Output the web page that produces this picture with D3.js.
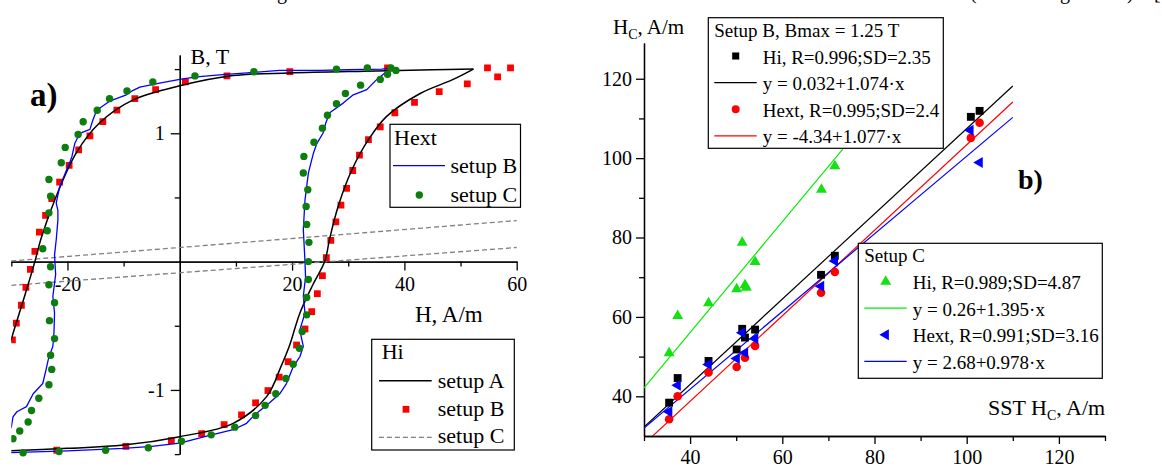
<!DOCTYPE html>
<html>
<head>
<meta charset="utf-8">
<script src="https://cdn.jsdelivr.net/npm/d3@7"></script>
<style>
  body { margin: 0; background: #fff; }
  svg text { font-family: "Liberation Serif", "Times New Roman", serif; fill: #000; }
</style>
</head>
<body>
<div id="chart"></div>
<script>
/**
 * DATA - panel a) hysteresis loops, [H (A/m), B (T)]
 * */
// setup A, Hi (black line) - descending and ascending branches
const hiA_desc = [[52.3,1.50],[45,1.495],[35,1.485],[19.6,1.47],[9.5,1.45],[0,1.37],[-8.3,1.26],[-14.3,1.08],
  [-18.4,0.85],[-22,0.51],[-24.7,0.18],[-25.8,0],[-27.5,-0.25],[-29.7,-0.56],[-31,-0.75]];
const hiA_asc = [[-31,-1.475],[-20,-1.455],[-10,-1.43],[0,-1.364],[9.5,-1.26],[15.5,-1.05],[18,-0.82],[19.5,-0.66],
  [21.4,-0.40],[23.7,-0.18],[25.8,0],[26.7,0.18],[28.2,0.43],[30.6,0.71],[33.6,0.95],[36.8,1.13],[42.8,1.31],
  [48.7,1.42],[52.3,1.50]];

// setup B, Hext (blue line)
const hextB_desc = [[37.7,1.51],[36,1.50],[30,1.495],[25,1.49],[17.8,1.49],[12,1.47],[7.1,1.455],[3,1.44],[0,1.42],
  [-3.6,1.39],[-7.1,1.36],[-8.5,1.33],[-9.5,1.30],[-12.5,1.25],[-14.8,1.18],[-15.5,1.10],[-16,1.03],[-17.8,1.0],
  [-18.7,0.92],[-19.2,0.82],[-19.6,0.77],[-20.2,0.71],[-21.4,0.58],[-22,0.455],[-21.7,0.40],[-21.7,0.325],
  [-22,0.17],[-22.3,0.05],[-22.1,-0.10],[-22.6,-0.27],[-22.3,-0.40],[-22.4,-0.55],[-22.6,-0.66],[-23.4,-0.76],
  [-23.8,-0.84],[-24.4,-0.95],[-26.1,-1.03],[-27.3,-1.13],[-29,-1.17],[-29.7,-1.21],[-30,-1.29],[-30.5,-1.32]];
const hextB_asc = [[-31,-1.49],[-20,-1.475],[-10,-1.455],[-5,-1.44],[0,-1.415],[4.8,-1.36],[9.5,-1.31],[11.9,-1.26],
  [13.2,-1.20],[14.3,-1.16],[16,-1.10],[17.8,-1.03],[19,-0.95],[20.2,-0.82],[21.4,-0.74],[22,-0.66],[21.6,-0.58],
  [21.4,-0.53],[22.3,-0.40],[22,-0.27],[22.4,-0.12],[22.3,0],[22,0.25],[22.3,0.48],[22.9,0.69],[23.8,0.845],
  [24.4,0.92],[25.5,1.0],[26,1.08],[26.7,1.16],[29.1,1.235],[30.9,1.30],[33.3,1.34],[35.1,1.42],[36.8,1.48],[37.7,1.51]];

// setup B, Hi (red squares)
const hiB_pts = [[58.9,1.51],[56.6,1.44],[54.8,1.51],[51.2,1.385],[46.2,1.325],[41.8,1.24],[38.3,1.16],[35.7,1.05],
  [33.6,0.95],[32,0.83],[30.8,0.71],[29.7,0.57],[28.7,0.44],[27.8,0.31],[26.9,0.165],[26.1,0.03],[25.4,-0.11],
  [24.5,-0.25],[23.5,-0.39],[22.3,-0.525],[20.8,-0.65],[19.3,-0.78],[17.7,-0.90],[15.7,-1.005],[13.5,-1.10],
  [11,-1.195],[7.9,-1.27],[3.9,-1.34],[-1.5,-1.395],[-9.6,-1.44],[-21.9,-1.47],
  [37,1.51],[19.6,1.48],[8.4,1.447],[1,1.40],[-4.3,1.34],[-8,1.27],[-11.2,1.18],[-13.7,1.09],[-16,0.98],
  [-18,0.87],[-19.7,0.75],[-21.4,0.62],[-22.8,0.49],[-23.9,0.36],[-25,0.23],[-25.8,0.08],[-26.6,-0.06],
  [-27.4,-0.20],[-28.2,-0.34],[-29.1,-0.48],[-29.8,-0.61]];

// setup C, Hext (green dots)
const hextC_pts = [[13.2,1.48],[2.7,1.447],[-4.8,1.40],[-9.4,1.33],[-12.5,1.27],[-14.7,1.18],[-17.2,1.09],[-18.1,0.99],
  [-20.4,0.89],[-21.1,0.77],[-23.3,0.64],[-23,0.51],[-23.3,0.38],[-23.6,0.24],[-24.4,0.10],[-23,-0.04],[-23.3,-0.18],
  [-22.3,-0.32],[-23.2,-0.46],[-22.3,-0.60],[-23,-0.73],[-22.8,-0.84],[-23.3,-0.96],[-25.1,-1.065],[-26.4,-1.16],
  [-27,-1.25],[-28.5,-1.32],[-29.7,-1.38],[-27.9,-1.49],[-21.5,-1.48],[-13.2,-1.47],[-5.6,-1.45],[0.3,-1.40],
  [5.6,-1.35],[9.8,-1.29],[13.5,-1.20],[15.2,-1.12],[17.1,-1.03],[18.9,-0.91],[20.2,-0.80],[21.3,-0.675],
  [21.8,-0.545],[22.6,-0.415],[22.6,-0.28],[22.9,-0.14],[22.9,0],[23,0.15],[22.6,0.29],[22.5,0.43],[22.8,0.56],
  [22,0.69],[22.1,0.82],[23.9,0.93],[25.4,1.04],[26.3,1.14],[27.9,1.23],[29.5,1.31],[32.2,1.375],[35.7,1.42],
  [37,1.46],[37.6,1.51],[38.5,1.49],[33.4,1.51],[27.9,1.50]];

// setup C, Hi (grey dashed, a very thin loop)
const hiC_upper = [[-30,0.005],[60,0.32]];
const hiC_lower = [[-30,-0.185],[60,0.11]];

// axis ticks, panel a
const aMajorX = [-20, 20, 40, 60];
const aMinorX = [-30, -10, 10, 30, 50];
const aMajorY = [-1, 1];
const aMinorY = [-1.5, -0.5, 0.5, 1.5];

/**
 * DATA - panel b) coercivity vs SST
 * */
const sstHiB = [35.45, 37.3, 44.0, 50.1, 51.3, 51.9, 54.1, 68.4, 71.4, 100.9, 102.8];
const hiB = [38.4, 44.6, 48.9, 51.8, 57.0, 54.8, 56.8, 70.6, 75.4, 110.4, 111.9];
const sstHextB = [35.45, 37.3, 44.0, 50.1, 51.9, 54.1, 68.4, 71.4, 100.9, 102.8];
const hextB = [34.2, 40.0, 46.0, 47.4, 49.7, 52.7, 66.1, 71.3, 105.1, 108.9];
const sstHiC = [35.45, 37.3, 44.0, 50.1, 51.3, 51.9, 52.2, 54.1, 68.5, 71.4];
const hiC = [50.9, 60.3, 63.5, 67.0, 78.7, 68.0, 67.4, 73.9, 92.1, 98.0];
const sstHextC = [35.45, 37.3, 44.0, 50.1, 51.3, 51.9, 54.1, 68.4, 71.4, 100.8, 102.8];
const hextC = [36.1, 42.8, 48.0, 49.5, 56.0, 51.0, 54.5, 67.7, 74.1, 107.0, 98.9];

// linear fits from the legends: [intercept, slope]
const fitNames = ["hiB", "hextB", "hiC", "hextC"];
const fitIntercept = [0.032, -4.34, 0.26, 2.68];
const fitSlope = [1.074, 1.077, 1.395, 0.978];
const fitRange = [30, 110];

const bMajorX = [40, 60, 80, 100, 120];
const bMinorX = [30, 50, 70, 90, 110, 130];
const bMajorY = [40, 60, 80, 100, 120];
const bMinorY = [50, 70, 90, 110];

const legendB = ["Setup B, Bmax = 1.25 T", "Hi, R=0.996;SD=2.35", "y = 0.032+1.074\u00b7x",
  "Hext, R=0.995;SD=2.4", "y = -4.34+1.077\u00b7x"];
const legendC = ["Setup C", "Hi, R=0.989;SD=4.87", "y = 0.26+1.395\u00b7x",
  "Hext, R=0.991;SD=3.16", "y = 2.68+0.978\u00b7x"];

const GREEN_A = "#0d7d0d", GREEN_B = "#14e014", RED = "#ff0000", BLUE = "#0000ff";

/**
 * SVG
 * */
const svg = d3.select("#chart").append("svg")
  .attr("width", 1162).attr("height", 466)
  .style("display", "block").style("background", "#fff");

// cut-off caption line at the very top
const frags = [["g", 277], ["(", 970], ["g", 1060], [")", 1127], ["[", 1154]];
svg.selectAll(".frag").data(frags).join("text")
  .attr("class", "frag").attr("x", d => d[1]).attr("y", -1)
  .attr("font-size", 20).text(d => d[0]);

function styleAxis(g, fs) {
  g.selectAll("path.domain").attr("stroke-width", 1.3);
  g.selectAll("line").attr("stroke-width", 1.3);
  g.selectAll("text").style("font-size", fs + "px").style("font-family", "Liberation Serif");
}

/* ================= PANEL A ================= */
const xA = d3.scaleLinear().domain([-30, 60]).range([11.3, 516.7]);
const yA = d3.scaleLinear().domain([-1.5, 1.61]).range([454.1, 55]);

svg.append("clipPath").attr("id", "clipA")
  .append("rect").attr("x", xA(-30)).attr("y", 40).attr("width", 560).attr("height", 420);

// axes
const gxA = svg.append("g").attr("transform", `translate(0,${yA(0)})`);
gxA.append("g").call(d3.axisBottom(xA).tickValues(aMinorX).tickSize(5).tickSizeOuter(0).tickFormat(""));
gxA.append("g").call(d3.axisBottom(xA).tickValues(aMajorX).tickSize(9).tickSizeOuter(0).tickPadding(6)
  .tickFormat(d => String(d)));
styleAxis(gxA, 20);

const gyA = svg.append("g").attr("transform", `translate(${xA(0)},0)`);
gyA.append("g").call(d3.axisLeft(yA).tickValues(aMinorY).tickSize(5).tickSizeOuter(0).tickFormat(""));
gyA.append("g").call(d3.axisLeft(yA).tickValues(aMajorY).tickSize(9).tickSizeOuter(0).tickPadding(6)
  .tickFormat(d => String(d)));
styleAxis(gyA, 20);

svg.append("text").attr("x", 190.5).attr("y", 64).attr("font-size", 22).text("B, T");
svg.append("text").attr("x", 415).attr("y", 321.5).attr("font-size", 23).text("H, A/m");
svg.append("text").attr("x", 30).attr("y", 106).attr("font-size", 33).attr("font-weight", "bold").text("a)");

const plotA = svg.append("g").attr("clip-path", "url(#clipA)");
const lineA = d3.line().x(d => xA(d[0])).y(d => yA(d[1]));

// setup C Hi - dashed grey
[hiC_upper, hiC_lower].forEach(seg => {
  plotA.append("path").attr("d", lineA(seg)).attr("fill", "none")
    .attr("stroke", "#808080").attr("stroke-width", 1.3).attr("stroke-dasharray", "5,3");
});

// setup B Hi - red squares
plotA.selectAll(".sqA").data(hiB_pts).join("path").attr("class", "sqA")
  .attr("transform", d => `translate(${xA(d[0])},${yA(d[1])})`)
  .attr("d", d3.symbol(d3.symbolSquare, 46)).attr("fill", RED);

// setup A Hi - black smooth loop
const smoothA = d3.line().x(d => xA(d[0])).y(d => yA(d[1])).curve(d3.curveCatmullRom);
[hiA_desc, hiA_asc].forEach(br => {
  plotA.append("path").attr("d", smoothA(br)).attr("fill", "none")
    .attr("stroke", "#000").attr("stroke-width", 1.5);
});

// setup B Hext - wobbly blue loop
[hextB_desc, hextB_asc].forEach(br => {
  plotA.append("path").attr("d", lineA(br)).attr("fill", "none")
    .attr("stroke", BLUE).attr("stroke-width", 1.3).attr("stroke-linejoin", "round");
});

// setup C Hext - green dots
plotA.selectAll(".dotA").data(hextC_pts).join("circle").attr("class", "dotA")
  .attr("cx", d => xA(d[0])).attr("cy", d => yA(d[1])).attr("r", 3.7).attr("fill", GREEN_A);

// legend Hext
const lgH = svg.append("g");
lgH.append("rect").attr("x", 390).attr("y", 124.3).attr("width", 130.5).attr("height", 83)
  .attr("fill", "#fff").attr("stroke", "#000").attr("stroke-width", 1.2);
lgH.append("text").attr("x", 394).attr("y", 145).attr("font-size", 22).text("Hext");
lgH.append("line").attr("x1", 393).attr("x2", 445).attr("y1", 165.7).attr("y2", 165.7)
  .attr("stroke", BLUE).attr("stroke-width", 1.3);
lgH.append("text").attr("x", 450.5).attr("y", 173.3).attr("font-size", 22).text("setup B");
lgH.append("circle").attr("cx", 419.3).attr("cy", 195).attr("r", 3.7).attr("fill", GREEN_A);
lgH.append("text").attr("x", 450.5).attr("y", 201.7).attr("font-size", 22).text("setup C");

// legend Hi
const lgI = svg.append("g");
lgI.append("rect").attr("x", 371.7).attr("y", 339.3).attr("width", 142.6).attr("height", 110.7)
  .attr("fill", "#fff").attr("stroke", "#000").attr("stroke-width", 1.2);
lgI.append("text").attr("x", 381.7).attr("y", 359.3).attr("font-size", 22).text("Hi");
lgI.append("line").attr("x1", 379).attr("x2", 431.7).attr("y1", 380.7).attr("y2", 380.7)
  .attr("stroke", "#000").attr("stroke-width", 1.5);
lgI.append("text").attr("x", 437.7).attr("y", 388.3).attr("font-size", 22).text("setup A");
lgI.append("path").attr("transform", "translate(406,409.3)")
  .attr("d", d3.symbol(d3.symbolSquare, 46)).attr("fill", RED);
lgI.append("text").attr("x", 437.7).attr("y", 415.7).attr("font-size", 22).text("setup B");
lgI.append("line").attr("x1", 379).attr("x2", 431.7).attr("y1", 437.3).attr("y2", 437.3)
  .attr("stroke", "#808080").attr("stroke-width", 1.3).attr("stroke-dasharray", "5,3");
lgI.append("text").attr("x", 437.7).attr("y", 443.3).attr("font-size", 22).text("setup C");

/* ================= PANEL B ================= */
const xB = d3.scaleLinear().domain([30, 130]).range([644, 1105]);
const yB = d3.scaleLinear().domain([30, 129]).range([436, 43]);

svg.append("clipPath").attr("id", "clipB")
  .append("rect").attr("x", xB(30)).attr("y", yB(129))
  .attr("width", xB(130) - xB(30)).attr("height", yB(30) - yB(129));

const gxB = svg.append("g").attr("transform", `translate(0,${yB(30)})`);
gxB.append("g").call(d3.axisBottom(xB).tickValues(bMinorX).tickSize(5).tickSizeOuter(0).tickFormat(""));
gxB.append("g").call(d3.axisBottom(xB).tickValues(bMajorX).tickSize(8).tickSizeOuter(0).tickPadding(6)
  .tickFormat(d => String(d)));
styleAxis(gxB, 20);

const gyB = svg.append("g").attr("transform", `translate(${xB(30)},0)`);
gyB.append("g").call(d3.axisLeft(yB).tickValues(bMinorY).tickSize(5).tickSizeOuter(0).tickFormat(""));
gyB.append("g").call(d3.axisLeft(yB).tickValues(bMajorY).tickSize(8).tickSizeOuter(0).tickPadding(4)
  .tickFormat(d => String(d)));
styleAxis(gyB, 20);

// axis titles with subscript C
const tY = svg.append("text").attr("x", 613).attr("y", 34.3).attr("font-size", 21);
tY.append("tspan").text("H");
tY.append("tspan").attr("font-size", 14).attr("dy", 5).text("C");
tY.append("tspan").attr("dy", -5).text(", A/m");

const tX = svg.append("text").attr("x", 988).attr("y", 415).attr("font-size", 22);
tX.append("tspan").text("SST H");
tX.append("tspan").attr("font-size", 14).attr("dy", 5).text("C");
tX.append("tspan").attr("dy", -5).text(", A/m");

svg.append("text").attr("x", 1018).attr("y", 188.5).attr("font-size", 28).attr("font-weight", "bold").text("b)");

// fit lines
const fitColors = ["#000", RED, "#00ee00", BLUE];
const plotB = svg.append("g").attr("clip-path", "url(#clipB)");
fitNames.forEach((name, i) => {
  plotB.append("line").attr("class", "fit-" + name)
    .attr("x1", xB(fitRange[0])).attr("y1", yB(fitIntercept[i] + fitSlope[i] * fitRange[0]))
    .attr("x2", xB(fitRange[1])).attr("y2", yB(fitIntercept[i] + fitSlope[i] * fitRange[1]))
    .attr("stroke", fitColors[i]).attr("stroke-width", 1.2);
});

// markers
const marks = [
  { xs: sstHiB, ys: hiB, sym: d3.symbolSquare, size: 62, rot: 0, color: "#000" },
  { xs: sstHextB, ys: hextB, sym: d3.symbolCircle, size: 58, rot: 0, color: RED },
  { xs: sstHiC, ys: hiC, sym: d3.symbolTriangle, size: 52, rot: 0, color: GREEN_B },
  { xs: sstHextC, ys: hextC, sym: d3.symbolTriangle, size: 52, rot: -90, color: BLUE }
];
marks.forEach(m => {
  svg.append("g").selectAll("path").data(m.xs.map((x, i) => [x, m.ys[i]])).join("path")
    .attr("transform", d => `translate(${xB(d[0])},${yB(d[1])}) rotate(${m.rot})`)
    .attr("d", d3.symbol(m.sym, m.size)).attr("fill", m.color);
});

// legends panel b
function legendBox(x, y, w, h, texts, items) {
  const g = svg.append("g");
  g.append("rect").attr("x", x).attr("y", y).attr("width", w).attr("height", h)
    .attr("fill", "#fff").attr("stroke", "#000").attr("stroke-width", 1.2);
  g.append("text").attr("x", x + 6).attr("y", y + 19).attr("font-size", 19).text(texts[0]);
  items.forEach((it, i) => {
    const cy = y + 38.3 + i * 26.6;
    if (it.type === "sym") {
      g.append("path").attr("transform", `translate(${x + 27.4},${cy}) rotate(${it.rot})`)
        .attr("d", d3.symbol(it.sym, it.size)).attr("fill", it.color);
    } else {
      g.append("line").attr("x1", x + 6).attr("x2", x + 48.4).attr("y1", cy).attr("y2", cy)
        .attr("stroke", it.color).attr("stroke-width", 1.2);
    }
    g.append("text").attr("x", x + 54.4).attr("y", cy + 7.5).attr("font-size", 19).text(texts[i + 1]);
  });
}
legendBox(708.3, 17.7, 235, 130.6, legendB, [
  { type: "sym", sym: d3.symbolSquare, size: 50, rot: 0, color: "#000" },
  { type: "line", color: "#000" },
  { type: "sym", sym: d3.symbolCircle, size: 50, rot: 0, color: RED },
  { type: "line", color: RED }
]);
legendBox(858.3, 243.3, 244, 135, legendC, [
  { type: "sym", sym: d3.symbolTriangle, size: 52, rot: 0, color: GREEN_B },
  { type: "line", color: "#00ee00" },
  { type: "sym", sym: d3.symbolTriangle, size: 52, rot: -90, color: BLUE },
  { type: "line", color: BLUE }
]);
</script>
</body>
</html>
